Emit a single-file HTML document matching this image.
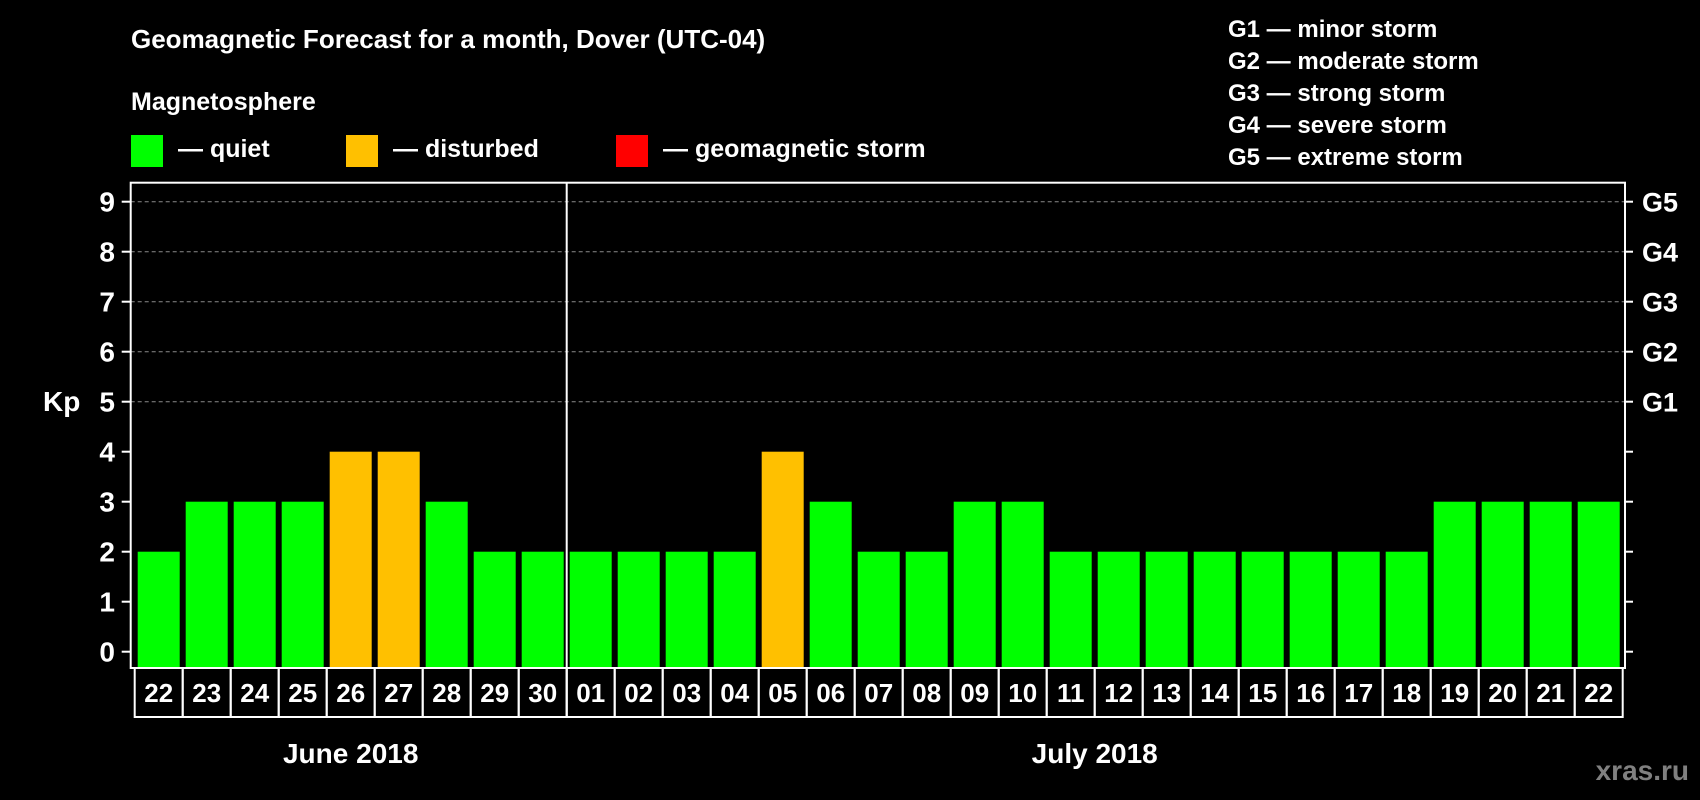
<!DOCTYPE html>
<html><head><meta charset="utf-8"><style>
html,body{margin:0;padding:0;background:#000;}
svg{display:block;font-family:"Liberation Sans",Arial,sans-serif;font-weight:bold;}
</style></head><body>
<svg id="chart" width="1700" height="800" viewBox="0 0 1700 800">
<rect x="0" y="0" width="1700" height="800" fill="#000"/>
<text x="131" y="48" fill="#fff" font-size="26">Geomagnetic Forecast for a month, Dover (UTC-04)</text>
<text x="131" y="110" fill="#fff" font-size="25">Magnetosphere</text>
<g><rect x="131" y="135" width="32" height="32" fill="#00ff00"/><text x="178" y="157" fill="#fff" font-size="25">— quiet</text></g>
<g><rect x="346" y="135" width="32" height="32" fill="#ffc000"/><text x="393" y="157" fill="#fff" font-size="25">— disturbed</text></g>
<g><rect x="616" y="135" width="32" height="32" fill="#ff0000"/><text x="663" y="157" fill="#fff" font-size="25">— geomagnetic storm</text></g>
<g fill="#fff" font-size="24">
<text x="1228" y="37">G1 — minor storm</text>
<text x="1228" y="69">G2 — moderate storm</text>
<text x="1228" y="101">G3 — strong storm</text>
<text x="1228" y="133">G4 — severe storm</text>
<text x="1228" y="165">G5 — extreme storm</text>
</g>
<text x="43" y="411" fill="#fff" font-size="28">Kp</text>
<text x="1689" y="780" fill="#808080" font-size="28" text-anchor="end">xras.ru</text>
<g id="plot"></g>
</svg>
<script>
const days = ["22","23","24","25","26","27","28","29","30","01","02","03","04","05","06","07","08","09","10","11","12","13","14","15","16","17","18","19","20","21","22"];
const kpValues = [2,3,3,3,4,4,3,2,2,2,2,2,2,4,3,2,2,3,3,2,2,2,2,2,2,2,2,3,3,3,3];
const yTicks = [0,1,2,3,4,5,6,7,8,9];
const gLabels = ["G1","G2","G3","G4","G5"];
const gLevels = [5,6,7,8,9];
const months = ["June 2018","July 2018"];
const monthDayCounts = [9,22];

const NS="http://www.w3.org/2000/svg";
const plot=document.getElementById('plot');
const X0=134.7, STEP=48, Y0=651.7, UNIT=50;
const frameL=130.7, frameR=1625, frameT=182.7, frameB=668;
const xPos=i=>X0+i*STEP;
const yPos=v=>Y0-v*UNIT;
function mk(tag,attrs,parent){const e=document.createElementNS(NS,tag);for(const k in attrs)e.setAttribute(k,attrs[k]);(parent||plot).appendChild(e);return e;}

// gridlines
yTicks.forEach(v=>{
  if(v>=5){const g=mk('line',{x1:frameL,x2:frameR,y1:yPos(v),y2:yPos(v),stroke:'#8a8a8a','stroke-width':1,'stroke-dasharray':'4,3'});
  
  }
  const t=mk('line',{x1:frameL-9,x2:frameL,y1:yPos(v),y2:yPos(v),stroke:'#fff','stroke-width':2});
  
  
  const rt=mk('line',{x1:frameR,x2:frameR+8,y1:yPos(v),y2:yPos(v),stroke:'#fff','stroke-width':2});
  
  
  const l=mk('text',{x:115,y:yPos(v)+10,fill:'#fff','font-size':28,'text-anchor':'end'});
  l.textContent=v;
  
  
});
gLabels.forEach((g,i)=>{
  const l=mk('text',{x:1642,y:yPos(gLevels[i])+10,fill:'#fff','font-size':27});
  l.textContent=g;
  
  
});
// bars
kpValues.forEach((v,i)=>{
  const col=v>=5?'#ff0000':(v>=4?'#ffc000':'#00ff00');
  const b=mk('rect',{x:xPos(i)+3,y:yPos(v),width:42,height:frameB-yPos(v),fill:col});
  
  
});
// frame
const fr=mk('rect',{x:frameL,y:frameT,width:frameR-frameL,height:frameB-frameT,fill:'none',stroke:'#fff','stroke-width':2});


// date boxes
days.forEach((d,i)=>{
  const r=mk('rect',{x:xPos(i),y:frameB,width:STEP,height:49,fill:'none',stroke:'#fff','stroke-width':2});
  
  
  const t=mk('text',{x:xPos(i)+STEP/2,y:frameB+34,fill:'#fff','font-size':26,'text-anchor':'middle'});
  t.textContent=d;
  
  
});
// month separator + labels
let start=0;
months.forEach((m,k)=>{
  const n=monthDayCounts[k];
  const t=mk('text',{x:xPos(start)+n*STEP/2,y:763,fill:'#fff','font-size':28,'text-anchor':'middle'});
  t.textContent=m;
  
  
  start+=n;
  if(k<months.length-1){
    const s=mk('line',{x1:xPos(start),x2:xPos(start),y1:frameT,y2:frameB+49,stroke:'#fff','stroke-width':2});
    
    
  }
});
</script>
</body></html>
